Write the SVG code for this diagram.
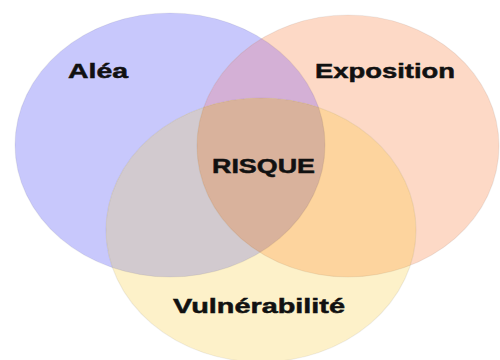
<svg xmlns="http://www.w3.org/2000/svg" width="500" height="360" viewBox="0 0 500 360">
<style>
.lbl{font-family:"Liberation Sans",Arial,sans-serif;font-weight:bold;font-size:21px;fill:#111111;stroke:#111111;stroke-width:0.5}
.edge{fill:none;stroke:#000;stroke-opacity:0.06;stroke-width:1.2}
</style>
<defs>
<clipPath id="cA"><ellipse cx="170" cy="145" rx="155" ry="132"/></clipPath>
<clipPath id="cE"><ellipse cx="348" cy="146" rx="151" ry="131"/></clipPath>
</defs>
<rect width="500" height="360" fill="#ffffff"/>
<g id="alea">
<ellipse cx="170" cy="145" rx="155" ry="132" fill="#c8c8fc"/>
</g>
<g id="exposition">
<ellipse cx="348" cy="146" rx="151" ry="131" fill="#fdd9c6"/>
<ellipse cx="348" cy="146" rx="151" ry="131" fill="#d4b0d6" clip-path="url(#cA)"/>
</g>
<g id="vulnerabilite">
<ellipse cx="261" cy="230" rx="155" ry="132" fill="#fdf1c9"/>
<ellipse cx="261" cy="230" rx="155" ry="132" fill="#d2cacf" clip-path="url(#cA)"/>
<ellipse cx="261" cy="230" rx="155" ry="132" fill="#fdd49e" clip-path="url(#cE)"/>
<g clip-path="url(#cA)"><ellipse cx="261" cy="230" rx="155" ry="132" fill="#d9b29c" clip-path="url(#cE)"/></g>
</g>
<g id="edges">
<ellipse class="edge" cx="170" cy="145" rx="155" ry="132"/>
<ellipse class="edge" cx="348" cy="146" rx="151" ry="131"/>
<ellipse class="edge" cx="261" cy="230" rx="155" ry="132"/>
</g>
<g id="labels">
<text class="lbl" x="68" y="78" textLength="60" lengthAdjust="spacingAndGlyphs">Aléa</text>
<text class="lbl" x="315" y="78" textLength="140" lengthAdjust="spacingAndGlyphs">Exposition</text>
<text class="lbl" x="212" y="173" textLength="103" lengthAdjust="spacingAndGlyphs">RISQUE</text>
<text class="lbl" x="173" y="313" textLength="172" lengthAdjust="spacingAndGlyphs">Vulnérabilité</text>
</g>
</svg>
